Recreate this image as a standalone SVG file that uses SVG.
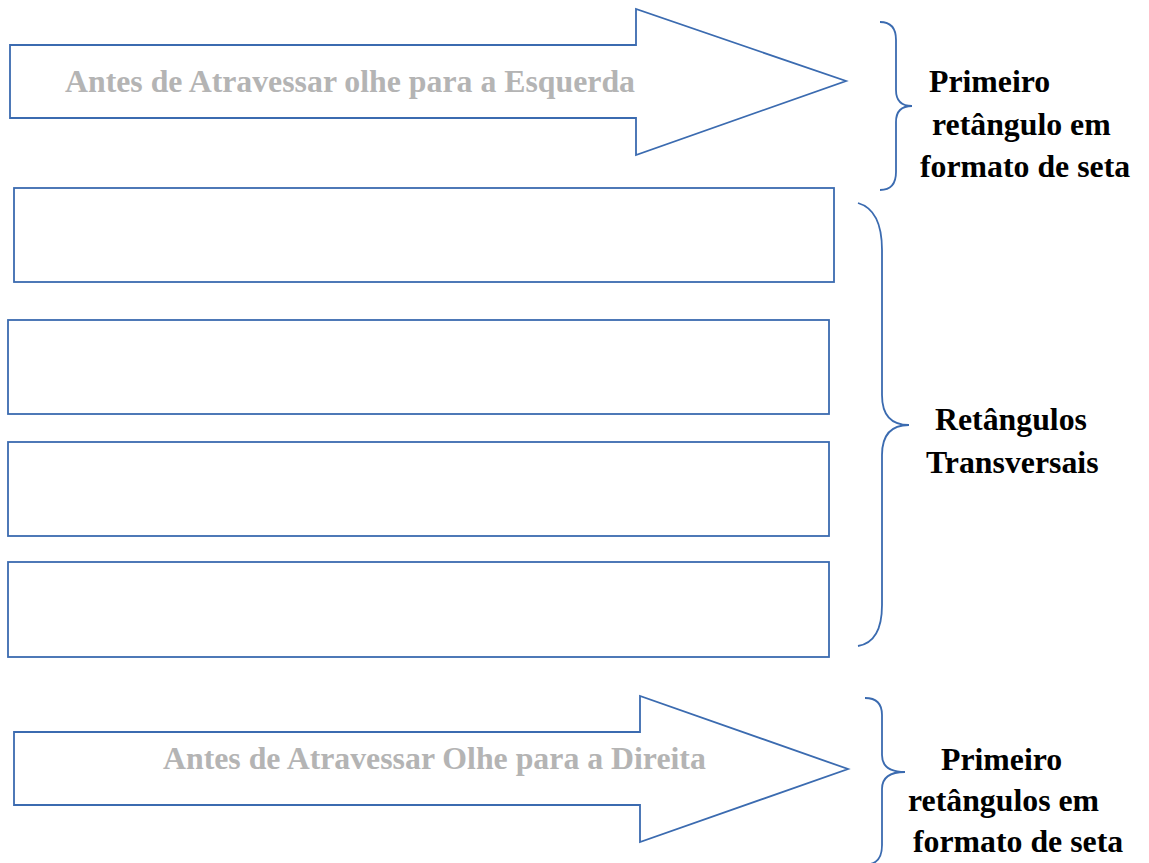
<svg xmlns="http://www.w3.org/2000/svg" width="1149" height="863" viewBox="0 0 1149 863">
<style>
.shape{fill:#ffffff;stroke:#3b6bb0;stroke-width:1.8}
.brace{fill:none;stroke:#3b6bb0;stroke-width:1.8}
.arrowtxt{font-family:"Liberation Serif",serif;font-weight:bold;font-size:31.8px;fill:#b4b4b4}
.label{font-family:"Liberation Serif",serif;font-weight:bold;font-size:31.8px;fill:#000000}
</style>
<rect width="1149" height="863" fill="#ffffff"/>
<g id="arrow-top">
<polygon class="shape" points="10,45 636,45 636,9 846,81 636,155 636,118 10,118"/>
<text class="arrowtxt" x="65" y="92">Antes de Atravessar olhe para a Esquerda</text>
</g>
<g id="rect-1"><rect class="shape" x="14" y="188" width="820" height="94"/></g>
<g id="rect-2"><rect class="shape" x="8" y="320" width="821" height="94"/></g>
<g id="rect-3"><rect class="shape" x="8" y="442" width="821" height="94"/></g>
<g id="rect-4"><rect class="shape" x="8" y="562" width="821" height="95"/></g>
<g id="arrow-bottom">
<polygon class="shape" points="14,732 640,732 640,696 848,769 640,842 640,805 14,805"/>
<text class="arrowtxt" x="163" y="769">Antes de Atravessar Olhe para a Direita</text>
</g>
<g id="braces">
<path class="brace" d="M880,22 Q896,22 896,40 L896,90 Q896,106 912,106 Q896,106 896,122 L896,172 Q896,190 880,190"/>
<path class="brace" d="M858,203 Q882,210 882,250 L882,395 Q882,425 909,425 Q882,425 882,455 L882,605 Q882,642 858,646"/>
<path class="brace" d="M865,698 Q882,698 882,715 L882,755 Q882,772 905,772 Q882,772 882,789 L882,845 Q882,862 870,864"/>
</g>
<g id="label-top">
<text class="label" x="929" y="92">Primeiro</text>
<text class="label" x="932" y="135">retângulo em</text>
<text class="label" x="920" y="177">formato de seta</text>
</g>
<g id="label-middle">
<text class="label" x="935" y="430">Retângulos</text>
<text class="label" x="926" y="473">Transversais</text>
</g>
<g id="label-bottom">
<text class="label" x="941" y="770">Primeiro</text>
<text class="label" x="908" y="811">retângulos em</text>
<text class="label" x="913" y="852">formato de seta</text>
</g>
</svg>
